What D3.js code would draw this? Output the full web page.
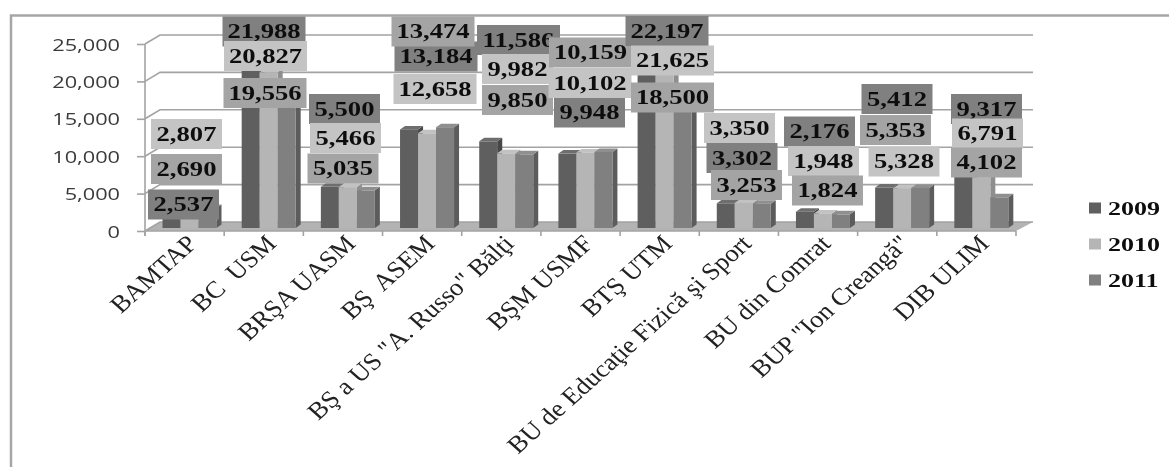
<!DOCTYPE html>
<html><head><meta charset="utf-8">
<script src="https://cdn.jsdelivr.net/npm/d3@7/dist/d3.min.js"></script>
<style>html,body{margin:0;padding:0;background:#fff;overflow:hidden}svg{display:block}text{white-space:pre}</style>
</head><body><script>
const categories = ["BAMTAP","BC  USM","BRŞA UASM","BŞ  ASEM","BŞ a US \"A. Russo\" Bălţi","BŞM USMF","BTŞ UTM","BU de Educaţie Fizică şi Sport","BU din Comrat","BUP \"Ion Creangă\"","DIB ULIM"];
const seriesNames = ["2009","2010","2011"];
const values2009 = [2537,21988,5500,13184,11586,9948,22197,3302,2176,5412,9317];
const values2010 = [2807,20827,5466,12658,9982,10102,21625,3350,1948,5328,6791];
const values2011 = [2690,19556,5035,13474,9850,10159,18500,3253,1824,5353,4102];
const yTicks = [0,5000,10000,15000,20000,25000];

// Manually placed data-label centres (the source chart has hand-dragged labels)
const labelLayout = [
 [[183.5,204.5],[186.5,134],[186.5,169]],
 [[264,31.5],[265.5,56],[265,93]],
 [[344.5,109],[345.5,138],[343,168.5]],
 [[436,56.5],[435,89],[433,31.5]],
 [[518.5,40],[517.5,69],[517.5,100]],
 [[589.5,112.5],[590,83],[590.5,52.5]],
 [[667,31],[672.5,60.5],[672.5,97.5]],
 [[742,158],[739.5,128],[746.5,185]],
 [[819.5,131.5],[823.5,161],[827.5,190.5]],
 [[897,99],[904,161.5],[895.5,130]],
 [[986.5,109],[987.5,133.5],[986.5,162.5]]
];
const seriesData = [values2009,values2010,values2011];
const front = ["#5f5f5f","#b5b5b5","#808080"];
const side  = ["#474747","#8e8e8e","#5c5c5c"];
const topF  = ["#6e6e6e","#c2c2c2","#8f8f8f"];
const labelFill = ["#808080","#c4c4c4","#a4a4a4"];
const depthX = 5, depthY = 3.5;

const svg = d3.select("body").append("svg").attr("width",1169).attr("height",467);
svg.append("defs").append("filter").attr("id","soft").attr("x","-5%").attr("y","-5%").attr("width","110%").attr("height","110%")
   .append("feGaussianBlur").attr("stdDeviation",0.45);
const root = svg.append("g").attr("filter","url(#soft)");
root.append("rect").attr("width",1169).attr("height",467).attr("fill","#fff");

// frame
root.append("path").attr("d","M11,467V15.5H1169").attr("fill","none").attr("stroke","#a6a6a6").attr("stroke-width",2.5);

const yAxisScale = d3.scaleLinear().domain([0,25000]).range([231,44]);
const yWall = d3.scaleLinear().domain([0,25000]).range([222,35]);
const yBar = d3.scaleLinear().domain([0,25000]).range([228,41]);
const x = d3.scaleBand().domain(categories).range([145,1016]);
const xs = d3.scaleBand().domain(seriesNames).range([17.5,71.5]);

// floor
root.append("polygon").attr("points","145,231 160,222 1033,222 1016,231").attr("fill","#b3b3b3");

// wall gridlines
const gridC = "#a3a3a3";
root.append("g").selectAll("path").data(yTicks).join("path")
  .attr("d",d=>`M${145},${yAxisScale(d)}L160,${yWall(d)}H1033`)
  .attr("fill","none").attr("stroke",gridC).attr("stroke-width",1.6);

// bars
seriesData.forEach((vals,s)=>{
  const g = root.append("g");
  const bars = g.selectAll("g").data(vals).join("g");
  const X = (d,i)=>x(categories[i])+xs(seriesNames[s]);
  const W = xs.bandwidth();
  bars.append("path").attr("fill",side[s]).attr("d",(d,i)=>{
    const x1=X(d,i)+W, t=yBar(d), b=yBar(0);
    return `M${x1},${t}l${depthX},${-depthY}V${b-depthY}l${-depthX},${depthY}Z`;});
  bars.append("path").attr("fill",topF[s]).attr("d",(d,i)=>{
    const x0=X(d,i), t=yBar(d);
    return `M${x0},${t}l${depthX},${-depthY}h${W}l${-depthX},${depthY}Z`;});
  bars.append("rect").attr("fill",front[s]).attr("x",X).attr("y",d=>yBar(d)).attr("width",W).attr("height",d=>yBar(0)-yBar(d));
});

// y axis
const axisG = root.append("g").attr("transform","translate(145,0)")
  .call(d3.axisLeft(yAxisScale).tickValues(yTicks).tickFormat(d3.format(",")).tickSize(8));
axisG.select(".domain").attr("stroke",gridC).attr("stroke-width",1.6).attr("d","M0,44V236");
axisG.selectAll(".tick line").attr("stroke",gridC).attr("stroke-width",1.6);
axisG.selectAll(".tick text").attr("x",0).attr("dy",null).attr("y",6)
  .attr("transform","translate(-25,0) scale(1.28,1)")
  .attr("font-family","'Open Sans',sans-serif").attr("font-size",17).attr("fill","#3a3a3a").attr("text-anchor","end");

// x axis
root.append("path").attr("d","M145,231H1016").attr("stroke",gridC).attr("stroke-width",1.6).attr("fill","none");
root.append("g").selectAll("line").data(d3.range(categories.length+1)).join("line")
  .attr("x1",i=>i<categories.length?x(categories[i]):x.range()[1])
  .attr("x2",i=>i<categories.length?x(categories[i]):x.range()[1])
  .attr("y1",231).attr("y2",236).attr("stroke",gridC).attr("stroke-width",1.6);

// category labels
root.append("g").selectAll("text").data(categories).join("text")
  .attr("transform",d=>`translate(${x(d)+x.bandwidth()/2+14},245) scale(1.12,1) rotate(-45)`)
  .attr("text-anchor","end").attr("font-family","'Liberation Serif',serif").attr("font-size",24).attr("fill","#222")
  .text(d=>d);

// data labels
const lab = root.append("g");
categories.forEach((c,i)=>{
  seriesData.forEach((vals,s)=>{
    const t = d3.format(",")(vals[i]);
    const w = t.length>5?83:71, h=30;
    const [cx,cy]=labelLayout[i][s];
    lab.append("rect").attr("x",cx-w/2).attr("y",cy-h/2).attr("width",w).attr("height",h).attr("fill",labelFill[s]);
    lab.append("text").attr("transform",`translate(${cx},${cy+6.5}) scale(1.3,1)`)
      .attr("text-anchor","middle").attr("font-family","'Liberation Serif',serif").attr("font-weight","bold")
      .attr("font-size",20.5).attr("fill","#111").text(t);
  });
});

// legend
const legendY = d3.scalePoint().domain(seriesNames).range([208,280]);
const leg = root.append("g").selectAll("g").data(seriesNames).join("g");
leg.append("rect").attr("x",1089).attr("y",d=>legendY(d)-5.5).attr("width",12).attr("height",11).attr("fill",(d,i)=>front[i]);
leg.append("text").attr("transform",d=>`translate(1108,${legendY(d)+7}) scale(1.37,1)`)
  .attr("font-family","'Liberation Serif',serif").attr("font-weight","bold").attr("font-size",19).attr("fill","#111").text(d=>d);
</script></body></html>
